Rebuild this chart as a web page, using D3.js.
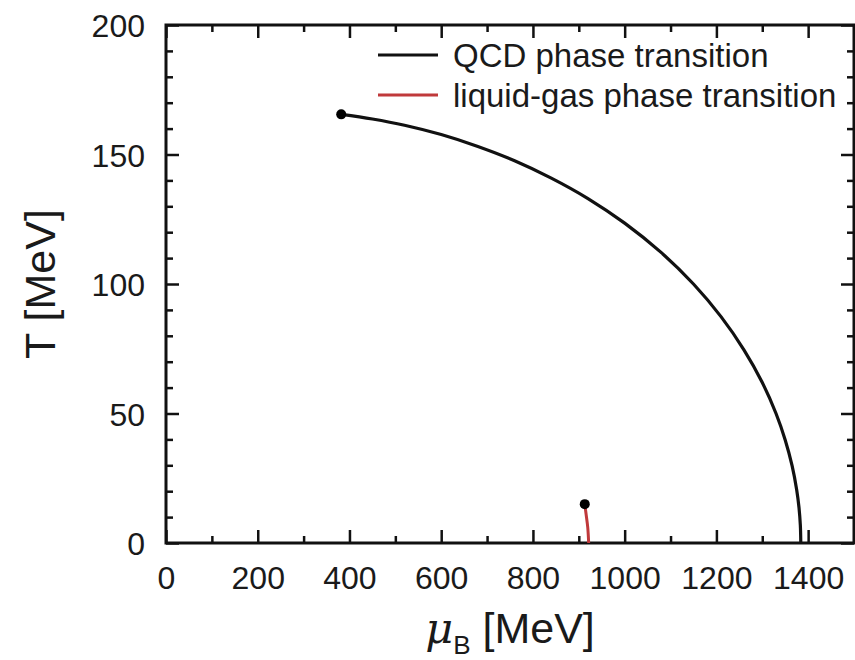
<!DOCTYPE html>
<html>
<head>
<meta charset="utf-8">
<script src="https://cdn.jsdelivr.net/npm/d3@7"></script>
<style>
  html, body { margin: 0; padding: 0; background: #fff; }
  svg { display: block; }
  text { font-family: "Liberation Sans", Arial, Helvetica, sans-serif; fill: #1a1a1a; }
</style>
</head>
<body>
<svg id="chart" width="855" height="660"></svg>
<script>
// QCD phase boundary (mu_B [MeV], T [MeV]) from the critical point down to T = 0
const qcdMu = [382, 450, 520, 600, 680, 760, 840, 920, 1000, 1080, 1150, 1210, 1260, 1300, 1330, 1350, 1365, 1375, 1380, 1383, 1384];
const qcdT  = [165.5, 163.7, 161.3, 157.7, 153.1, 147.6, 140.9, 133.0, 123.5, 112.1, 100.0, 87.4, 74.6, 62.0, 50.0, 39.8, 29.9, 20.6, 13.8, 6.9, 0];

// Nuclear liquid-gas boundary, critical point near T = 15 MeV
const lgMu = [913, 916, 919.5, 921.5];
const lgT  = [15, 11, 6, 0];

const xMajorTicks = [0, 200, 400, 600, 800, 1000, 1200, 1400];
const xMinorTicks = [100, 300, 500, 700, 900, 1100, 1300, 1500];
const yMajorTicks = [0, 50, 100, 150, 200];
const yMinorTicks = [10, 20, 30, 40, 60, 70, 80, 90, 110, 120, 130, 140, 160, 170, 180, 190];

const seriesNames = ["QCD phase transition", "liquid-gas phase transition"];
const seriesColors = ["#111111", "#c0393b"];

const svg = d3.select("#chart");
const plotL = 166, plotR = 854, plotT = 25, plotB = 543;

const x = d3.scaleLinear().domain([0, 1500]).range([plotL, plotR]);
const y = d3.scaleLinear().domain([0, 200]).range([plotB, plotT]);

const tickFont = 32, legendFont = 33, titleFont = 43;

// Ticks pointing inward on all four sides
function drawTicks(axisGen, tf, majorLen, minorLen, major, minor, showLabels) {
  const gMajor = svg.append("g").attr("transform", tf)
    .call(axisGen.tickValues(major).tickSize(majorLen).tickSizeOuter(0)
      .tickFormat(showLabels ? d3.format("d") : ""));
  const gMinor = svg.append("g").attr("transform", tf)
    .call(axisGen.tickValues(minor).tickSize(minorLen).tickSizeOuter(0).tickFormat(""));
  [gMajor, gMinor].forEach(g => {
    g.select(".domain").remove();
    g.selectAll(".tick line").attr("stroke", "#111").attr("stroke-width", 2.5);
  });
  return gMajor;
}

const gxB = drawTicks(d3.axisBottom(x), `translate(0,${plotB})`, -13, -7, xMajorTicks, xMinorTicks, true);
gxB.selectAll(".tick text").attr("y", 46).attr("dy", 0).style("font-size", tickFont + "px");
drawTicks(d3.axisTop(x), `translate(0,${plotT})`, -13, -7, xMajorTicks, xMinorTicks, false);

const gyL = drawTicks(d3.axisLeft(y), `translate(${plotL},0)`, -13, -7, yMajorTicks, yMinorTicks, true);
gyL.selectAll(".tick text").attr("x", -21).attr("dy", "0.36em").style("font-size", tickFont + "px");
drawTicks(d3.axisRight(y), `translate(${plotR},0)`, -13, -7, yMajorTicks, yMinorTicks, false);

svg.selectAll(".tick text").attr("fill", "#1a1a1a").attr("font-family", "Liberation Sans, Arial, sans-serif");

// Frame
svg.append("rect")
  .attr("x", plotL).attr("y", plotT)
  .attr("width", plotR - plotL).attr("height", plotB - plotT)
  .attr("fill", "none").attr("stroke", "#111").attr("stroke-width", 3);

const line = d3.line().x(d => x(d[0])).y(d => y(d[1])).curve(d3.curveCatmullRom.alpha(0.5));

const qcd = qcdMu.map((m, i) => [m, qcdT[i]]);
const lg = lgMu.map((m, i) => [m, lgT[i]]);

svg.append("path").datum(qcd).attr("d", line)
  .attr("fill", "none").attr("stroke", seriesColors[0]).attr("stroke-width", 3.2);
svg.append("path").datum(lg).attr("d", line)
  .attr("fill", "none").attr("stroke", seriesColors[1]).attr("stroke-width", 3);

// Critical points
svg.selectAll("circle.cp").data([qcd[0], lg[0]]).enter().append("circle")
  .attr("class", "cp")
  .attr("cx", d => x(d[0])).attr("cy", d => y(d[1])).attr("r", 5)
  .attr("fill", "#000");

// Legend
const legend = svg.append("g");
seriesNames.forEach((name, i) => {
  const ly = 55 + i * 40;
  legend.append("line")
    .attr("x1", 378).attr("x2", 438).attr("y1", ly).attr("y2", ly)
    .attr("stroke", seriesColors[i]).attr("stroke-width", 3.2);
  legend.append("text")
    .attr("x", 453).attr("y", ly).attr("dy", "0.36em")
    .style("font-size", legendFont + "px")
    .text(name);
});

// Axis titles
const xt = svg.append("text")
  .attr("x", 510).attr("y", 643)
  .attr("text-anchor", "middle")
  .style("font-size", titleFont + "px");
xt.append("tspan").style("font-family", "DejaVu Serif, serif").style("font-style", "italic").text("μ");
xt.append("tspan").attr("dy", 11).style("font-size", "26px").text("B");
xt.append("tspan").attr("dy", -11).text(" [MeV]");

svg.append("text")
  .attr("transform", `translate(55,${(plotT + plotB) / 2}) rotate(-90)`)
  .attr("text-anchor", "middle")
  .style("font-size", titleFont + "px")
  .text("T [MeV]");
</script>
</body>
</html>
